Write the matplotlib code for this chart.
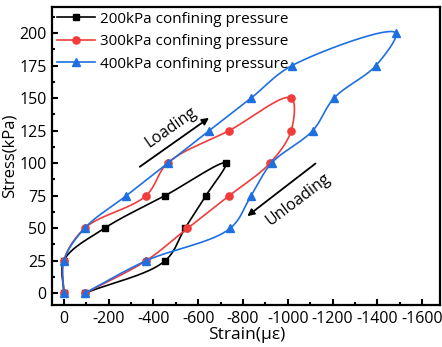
import numpy as np
import matplotlib.pyplot as plt
from matplotlib.ticker import MultipleLocator

plt.rcParams['font.family'] = ['Open Sans', 'DejaVu Sans']
plt.rcParams['axes.unicode_minus'] = False

# stress levels (kPa), loading then unloading
stress = [0, 25, 50, 75, 100, 75, 50, 25, 0]
stress_300 = [0, 25, 50, 75, 100, 125, 150, 125, 100, 75, 50, 25, 0]
stress_400 = [0, 25, 50, 75, 100, 125, 150, 175, 200, 175, 150, 125, 100, 75, 50, 25, 0]

# strain (micro-strain)
strain_200 = [0, 0, -182, -452, -723, -634, -541, -452, -93]
strain_300 = [0, 0, -93, -367, -463, -738, -1015, -1015, -920, -738, -552, -367, -93]
strain_400 = [0, 0, -93, -279, -463, -649, -836, -1019, -1481, -1393, -1206, -1111,
              -927, -836, -743, -367, -93]

labels = ['200kPa confining pressure', '300kPa confining pressure', '400kPa confining pressure']
colors = ['black', '#F23C3C', '#1E6FE0']
markers = ['s', 'o', '^']
msizes = [4.6, 5.2, 6]


def smooth(xs, ys, n=40):
    # centripetal Catmull-Rom through the points, in screen-like units
    sx, sy = 390 / 1600, 260 / 200
    P = np.column_stack([np.asarray(xs) * sx, np.asarray(ys) * sy]).astype(float)
    P = np.vstack([2 * P[0] - P[1], P, 2 * P[-1] - P[-2]])
    out = []
    for i in range(1, len(P) - 2):
        p0, p1, p2, p3 = P[i - 1], P[i], P[i + 1], P[i + 2]
        t0 = 0
        t1 = t0 + np.linalg.norm(p1 - p0) ** 0.5
        t2 = t1 + np.linalg.norm(p2 - p1) ** 0.5
        t3 = t2 + np.linalg.norm(p3 - p2) ** 0.5
        t = np.linspace(t1, t2, n)[:, None]
        a1 = (t1 - t) / (t1 - t0) * p0 + (t - t0) / (t1 - t0) * p1
        a2 = (t2 - t) / (t2 - t1) * p1 + (t - t1) / (t2 - t1) * p2
        a3 = (t3 - t) / (t3 - t2) * p2 + (t - t2) / (t3 - t2) * p3
        b1 = (t2 - t) / (t2 - t0) * a1 + (t - t0) / (t2 - t0) * a2
        b2 = (t3 - t) / (t3 - t1) * a2 + (t - t1) / (t3 - t1) * a3
        c = (t2 - t) / (t2 - t1) * b1 + (t - t1) / (t2 - t1) * b2
        out.append(c)
    out = np.vstack(out)
    return out[:, 0] / sx, out[:, 1] / sy


fig = plt.figure(figsize=(4.42, 3.47), dpi=100)
ax = fig.add_axes([0.118, 0.121, 0.878, 0.859])

series = [(strain_200, stress), (strain_300, stress_300), (strain_400, stress_400)]
for (x, y), lab, c, m, ms in zip(series, labels, colors, markers, msizes):
    cx, cy = smooth(x, y)
    ax.plot(cx, cy, color=c, lw=1.2)
    ax.plot(x, y, ls='none', marker=m, color=c, ms=ms)
    ax.plot([], [], color=c, lw=1.2, marker=m, ms=ms, label=lab)

ax.set_xlim(52, -1680)
ax.set_ylim(-9, 220)
ax.xaxis.set_major_locator(MultipleLocator(200))
ax.xaxis.set_minor_locator(MultipleLocator(100))
ax.yaxis.set_major_locator(MultipleLocator(25))
ax.yaxis.set_minor_locator(MultipleLocator(12.5))
ax.tick_params(which='both', direction='in', width=1.5, labelsize=11.5, top=False, right=False)
ax.tick_params(which='major', length=4, pad=4)
ax.tick_params(which='minor', length=2)
for s in ax.spines.values():
    s.set_linewidth(1.6)

ax.set_xlabel('Strain(με)', fontsize=12.5, labelpad=0)
ax.set_ylabel('Stress(kPa)', fontsize=12, labelpad=1)

# loading / unloading arrows
ax.annotate('', xy=(-658, 136), xytext=(-329, 96),
            arrowprops=dict(arrowstyle='-|>', color='black', lw=1.3, mutation_scale=10))
ax.text(-478, 127, 'Loading', rotation=35, fontsize=11.5, ha='center', va='center')
ax.annotate('', xy=(-809, 58), xytext=(-1133, 101),
            arrowprops=dict(arrowstyle='-|>', color='black', lw=1.3, mutation_scale=10))
ax.text(-1045, 72, 'Unloading', rotation=37, fontsize=11.5, ha='center', va='center')

ax.legend(loc='upper left', frameon=False, fontsize=11, handlelength=2.5,
          handletextpad=0.35, labelspacing=0.5, borderaxespad=0.0, borderpad=0.3,
          bbox_to_anchor=(0.0, 1.0))

fig.savefig('out.png', dpi=100)
